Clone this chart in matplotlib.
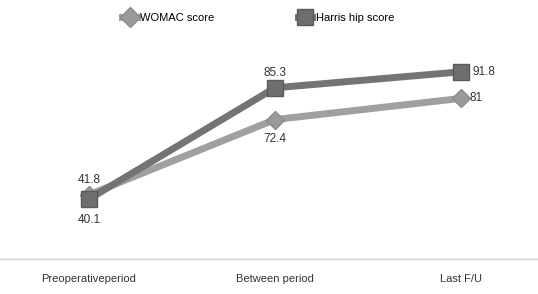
import matplotlib.pyplot as plt

plt.rcParams['font.family'] = ['Liberation Sans', 'DejaVu Sans']

categories = ['Preoperativeperiod', 'Between period', 'Last F/U']
womac = [41.8, 72.4, 81]
harris = [40.1, 85.3, 91.8]

fig = plt.figure(figsize=(5.38, 2.94), dpi=100)
ax = fig.add_axes([0, 35 / 294, 1, 229 / 294])

x = list(range(len(categories)))
ax.plot(x, womac, color='#a0a0a0', lw=5, marker='D', ms=9,
        mfc='#9a9a9a', mec='#8a8a8a', label='WOMAC score', zorder=3)
ax.plot(x, harris, color='#747474', lw=5, marker='s', ms=11,
        mfc='#6e6e6e', mec='#5a5a5a', label='Harris hip score', zorder=4)

# value labels
w_off = [(0, 11), (0, -14), (6, 0)]
h_off = [(0, -15), (0, 11), (8, 0)]
for i in x:
    dx, dy = w_off[i]
    ax.annotate(f'{womac[i]:g}', (x[i], womac[i]), xytext=(dx, dy),
                textcoords='offset points', fontsize=8.5, color='#333333',
                ha='left' if dx else 'center', va='center')
    dx, dy = h_off[i]
    ax.annotate(f'{harris[i]:g}', (x[i], harris[i]), xytext=(dx, dy),
                textcoords='offset points', fontsize=8.5, color='#333333',
                ha='left' if dx else 'center', va='center')

ax.set_xlim(-0.478, 2.413)
ax.set_ylim(15.7, 108.8)
ax.set_xticks(x)
ax.set_xticklabels(categories, fontsize=8, color='#333333')
ax.tick_params(axis='x', length=0, pad=11)
ax.set_yticks([])
for s in ['top', 'left', 'right']:
    ax.spines[s].set_visible(False)
ax.spines['bottom'].set_color('#d0d0d0')
ax.spines['bottom'].set_linewidth(1)

fig.legend(loc='upper center', bbox_to_anchor=(0.48, 0.99), ncol=2,
           frameon=False, fontsize=8, handlelength=1.3, columnspacing=7.5,
           handletextpad=0.3, markerscale=1.1)

fig.savefig('out.png', dpi=100)
